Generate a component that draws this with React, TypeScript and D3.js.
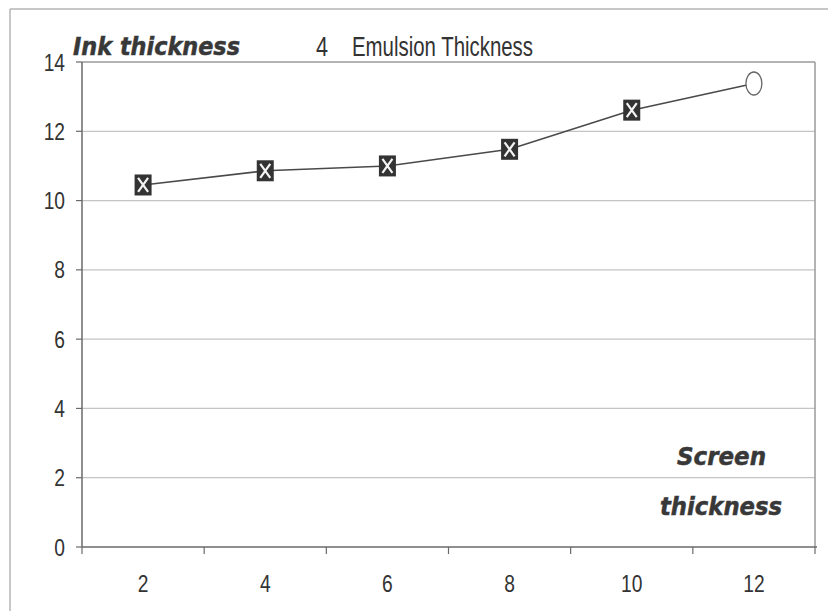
import * as d3 from "d3";

// Screen thickness categories (x) and ink thickness values (y)
const categories = ["2", "4", "6", "8", "10", "12"];
const inkValues = [10.45, 10.86, 11.0, 11.48, 12.61, 13.38];
const yTicks = [0, 2, 4, 6, 8, 10, 12, 14];

const W = 828;
const H = 611;
const NARROW = "'Liberation Sans', Arial, sans-serif";
const HEAVY = "'DejaVu Sans', Verdana, sans-serif";

// condensed text: the original uses an Arial Narrow look
const Narrow = (p: {
  x: number;
  y: number;
  size: number;
  anchor?: "start" | "middle" | "end";
  children: any;
}) => (
  <text
    transform={`translate(${p.x},${p.y}) scale(0.8,1)`}
    textAnchor={p.anchor ?? "start"}
    fontFamily={NARROW}
    fontSize={p.size}
    fill="#333"
  >
    {p.children}
  </text>
);

const Heavy = (p: { x: number; y: number; len: number; children: any }) => (
  <text
    x={p.x}
    y={p.y}
    fontFamily={HEAVY}
    fontWeight="bold"
    fontStyle="italic"
    fontSize={24}
    fill="#383838"
    stroke="#383838"
    strokeWidth={0.5}
    textLength={p.len}
    lengthAdjust="spacingAndGlyphs"
  >
    {p.children}
  </text>
);

export default function App() {
  const x = d3.scaleBand<string>().domain(categories).range([82, 815]);
  const y = d3.scaleLinear().domain([0, 14]).range([547, 62]);

  const cx = (c: string) => (x(c) ?? 0) + x.bandwidth() / 2;
  const line = d3
    .line<number>()
    .x((_, i) => cx(categories[i]))
    .y((d) => y(d));

  const last = inkValues.length - 1;

  return (
    <svg
      width={W}
      height={H}
      style={{ position: "absolute", left: 0, top: 0, background: "#fff" }}
    >
      {/* outer frame, only left and top edges show */}
      <line x1={10} y1={9} x2={W} y2={9} stroke="#b4b4b4" strokeWidth={1.5} />
      <line x1={10} y1={9} x2={10} y2={H} stroke="#b4b4b4" strokeWidth={1.5} />

      {/* gridlines */}
      {yTicks.slice(1, -1).map((t) => (
        <line key={t} x1={82} x2={815} y1={y(t)} y2={y(t)} stroke="#c4c4c4" strokeWidth={1.2} />
      ))}
      {/* plot border top/right */}
      <line x1={82} x2={815} y1={y(14)} y2={y(14)} stroke="#9a9a9a" strokeWidth={1.5} />
      <line x1={815} x2={815} y1={y(14)} y2={y(0)} stroke="#9a9a9a" strokeWidth={1.5} />

      {/* axes */}
      <line x1={82} x2={82} y1={y(14)} y2={y(0)} stroke="#6a6a6a" strokeWidth={1.5} />
      <line x1={82} x2={817} y1={y(0)} y2={y(0)} stroke="#6a6a6a" strokeWidth={1.5} />
      {yTicks.map((t) => (
        <g key={t}>
          <line x1={76} x2={82} y1={y(t)} y2={y(t)} stroke="#6a6a6a" strokeWidth={1.2} />
          <Narrow x={65} y={y(t) + 8.5} size={24} anchor="end">
            {t}
          </Narrow>
        </g>
      ))}
      {categories.map((c, i) => (
        <g key={c}>
          <line
            x1={x(c) ?? 0}
            x2={x(c) ?? 0}
            y1={y(0)}
            y2={y(0) + 7}
            stroke="#6a6a6a"
            strokeWidth={1.2}
          />
          {i === categories.length - 1 && (
            <line x1={815} x2={815} y1={y(0)} y2={y(0) + 7} stroke="#6a6a6a" strokeWidth={1.2} />
          )}
          <Narrow x={cx(c)} y={592} size={24} anchor="middle">
            {c}
          </Narrow>
        </g>
      ))}

      {/* series line */}
      <path d={line(inkValues) ?? ""} fill="none" stroke="#4a4a4a" strokeWidth={1.6} />

      {/* markers */}
      {inkValues.map((v, i) => {
        const px = cx(categories[i]);
        const py = y(v);
        if (i === last) {
          return (
            <ellipse key={i} cx={px} cy={py} rx={8} ry={11.5} fill="#fff" stroke="#666" strokeWidth={1.3} />
          );
        }
        return (
          <g key={i}>
            <rect x={px - 8.5} y={py - 10.5} width={17} height={21} fill="#333" />
            <path
              d={`M${px - 5},${py - 7}L${px + 5},${py + 7}M${px + 5},${py - 7}L${px - 5},${py + 7}`}
              stroke="#f4f4f4"
              strokeWidth={2.2}
            />
          </g>
        );
      })}

      {/* titles */}
      <Heavy x={73} y={55} len={167}>
        Ink thickness
      </Heavy>
      <Narrow x={316} y={56} size={27}>
        4
      </Narrow>
      <text
        x={352}
        y={56}
        fontFamily={NARROW}
        fontSize={27}
        fill="#333"
        textLength={181}
        lengthAdjust="spacingAndGlyphs"
      >
        Emulsion Thickness
      </text>
      <Heavy x={677} y={465} len={89}>
        Screen
      </Heavy>
      <Heavy x={660} y={515} len={122}>
        thickness
      </Heavy>
    </svg>
  );
}
